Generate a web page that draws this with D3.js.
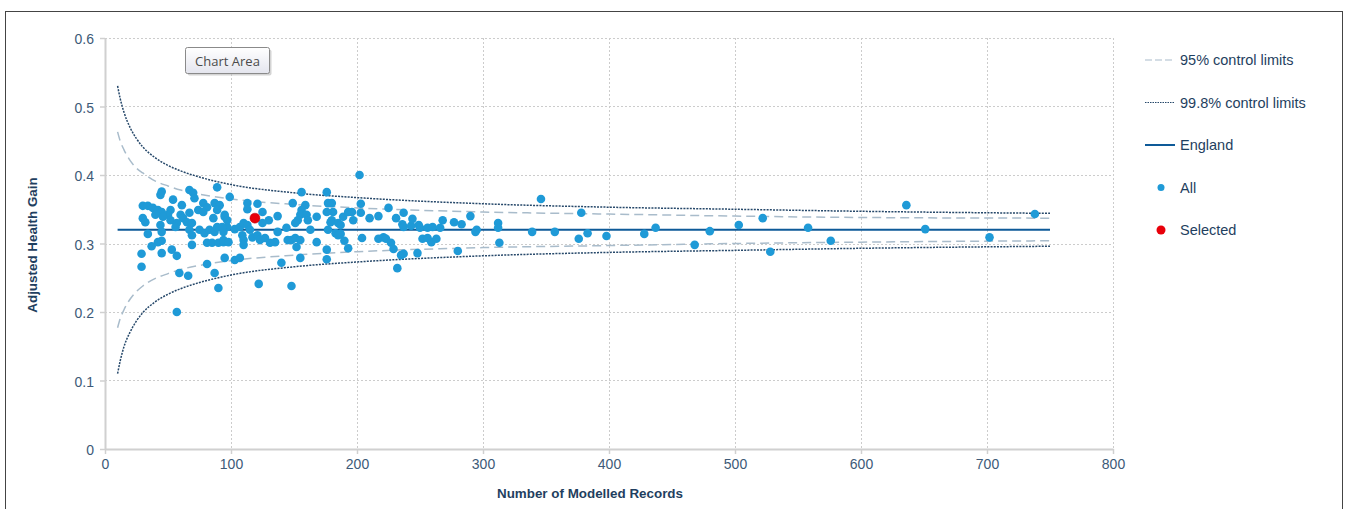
<!DOCTYPE html>
<html lang="en">
<head>
  <meta charset="UTF-8">
  <title>Adjusted Health Gain funnel plot</title>
  <script src="https://d3js.org/d3.v7.min.js"></script>
  <style>
    body { margin: 0; background: #fff; }
    .tick text { font-family: "Liberation Sans", Arial, sans-serif; font-size: 14px; fill: #3d5a78; }
    .axis-title { font-family: "Liberation Sans", Arial, sans-serif; font-size: 13.4px; font-weight: bold; fill: #1f3f60; }
    .legend text { font-family: "Liberation Sans", Arial, sans-serif; font-size: 14.5px; fill: #1f3f60; }
  </style>
</head>
<body>
  <div id="chart"></div>
  <script>
    // Providers: [number of modelled records, adjusted health gain]
    const providers = [
      [45, 0.376], [44, 0.371], [67, 0.378], [70, 0.374], [71, 0.366], [89, 0.382], [54, 0.364],
      [61, 0.356], [30, 0.355], [34, 0.355], [38, 0.352], [42, 0.349], [52, 0.349], [50, 0.342],
      [45, 0.346], [46, 0.339], [30, 0.337], [32, 0.331], [40, 0.342], [60, 0.342], [62, 0.337],
      [67, 0.345], [65, 0.331], [74, 0.349], [78, 0.359], [81, 0.353], [87, 0.359], [91, 0.356],
      [89, 0.349], [78, 0.346], [86, 0.337], [95, 0.339], [52, 0.334], [57, 0.330], [56, 0.324],
      [44, 0.327], [45, 0.317], [69, 0.330], [67, 0.320], [69, 0.312], [75, 0.320], [79, 0.315],
      [83, 0.320], [87, 0.317], [89, 0.324], [97, 0.324], [94, 0.317], [34, 0.314], [42, 0.302],
      [45, 0.304], [37, 0.296], [45, 0.286], [53, 0.291], [57, 0.282], [69, 0.298], [81, 0.301],
      [85, 0.301], [90, 0.301], [94, 0.302], [95, 0.279], [29, 0.285], [29, 0.266], [59, 0.257],
      [66, 0.253], [81, 0.270], [87, 0.257], [90, 0.235], [57, 0.200],
      [99, 0.368], [113, 0.359], [113, 0.350], [121, 0.358], [125, 0.346], [130, 0.334], [125, 0.330],
      [137, 0.340], [95, 0.342], [97, 0.334], [93, 0.324], [94, 0.305], [98, 0.302], [103, 0.321],
      [107, 0.324], [110, 0.330], [113, 0.327], [115, 0.320], [109, 0.312], [110, 0.305], [110, 0.298],
      [117, 0.309], [121, 0.312], [123, 0.305], [127, 0.308], [131, 0.301], [135, 0.302], [137, 0.317],
      [144, 0.323], [145, 0.305], [148, 0.305], [151, 0.308], [155, 0.305], [149, 0.359], [156, 0.375],
      [159, 0.356], [156, 0.349], [155, 0.342], [153, 0.334], [151, 0.330], [160, 0.342], [161, 0.334],
      [163, 0.320], [168, 0.302], [168, 0.339], [176, 0.375], [177, 0.359], [180, 0.359], [181, 0.346],
      [176, 0.346], [180, 0.334], [179, 0.331], [185, 0.330], [177, 0.320], [183, 0.315], [185, 0.312],
      [189, 0.339], [193, 0.346], [176, 0.291], [176, 0.277], [152, 0.295], [155, 0.279], [140, 0.272],
      [103, 0.276], [107, 0.279], [122, 0.241], [148, 0.238], [193, 0.293],
      [202, 0.400], [203, 0.358], [203, 0.345], [197, 0.334], [196, 0.346], [187, 0.327], [187, 0.314],
      [190, 0.304], [204, 0.308], [210, 0.337], [217, 0.340], [225, 0.352], [231, 0.337], [237, 0.345],
      [236, 0.328], [237, 0.324], [243, 0.326], [244, 0.336], [249, 0.327], [250, 0.323], [256, 0.323],
      [260, 0.324], [266, 0.323], [217, 0.307], [221, 0.309], [223, 0.307], [227, 0.301], [229, 0.292],
      [252, 0.307], [256, 0.308], [259, 0.302], [263, 0.307], [268, 0.334], [235, 0.283], [237, 0.285],
      [232, 0.264], [248, 0.286], [277, 0.331], [283, 0.328], [290, 0.340], [294, 0.317], [295, 0.320],
      [280, 0.289], [312, 0.330], [312, 0.323], [313, 0.301], [339, 0.317], [346, 0.365], [357, 0.317],
      [376, 0.307], [378, 0.345], [383, 0.315], [398, 0.311], [428, 0.314], [437, 0.323], [468, 0.298],
      [480, 0.318], [503, 0.327], [522, 0.337], [528, 0.288], [558, 0.323], [576, 0.304], [636, 0.356],
      [651, 0.321], [702, 0.309], [738, 0.343]
    ];
    const selected = [[119, 0.337]];

    const england = 0.32;
    const englandRange = [10, 750];

    // control limits
    const limitN = [10, 12, 15, 20, 25, 30, 40, 50, 60, 75, 100, 150, 200, 300, 400, 500, 600, 750];
    const upper95 = [0.463, 0.450, 0.437, 0.421, 0.410, 0.403, 0.391, 0.384, 0.378, 0.372, 0.365, 0.357, 0.352, 0.346, 0.343, 0.340, 0.338, 0.337];
    const lower95 = [0.177, 0.190, 0.203, 0.219, 0.230, 0.238, 0.249, 0.256, 0.262, 0.268, 0.275, 0.283, 0.288, 0.294, 0.297, 0.300, 0.302, 0.304];
    const upper998 = [0.530, 0.512, 0.492, 0.469, 0.453, 0.441, 0.425, 0.414, 0.406, 0.397, 0.386, 0.374, 0.367, 0.358, 0.353, 0.350, 0.347, 0.344];
    const lower998 = [0.110, 0.128, 0.149, 0.171, 0.187, 0.199, 0.215, 0.226, 0.234, 0.243, 0.254, 0.266, 0.273, 0.282, 0.287, 0.290, 0.293, 0.296];

    const xTicks = [0, 100, 200, 300, 400, 500, 600, 700, 800];
    const yTicks = [0, 0.1, 0.2, 0.3, 0.4, 0.5, 0.6];
    const legendLabels = ["95% control limits", "99.8% control limits", "England", "All", "Selected"];

    const W = 1349, H = 509;
    const plot = { left: 105, right: 1113, top: 38, bottom: 449 };

    const svg = d3.select("#chart")
      .append("svg")
      .attr("width", W)
      .attr("height", H);

    // outer frame
    svg.append("rect")
      .attr("x", 5.5).attr("y", 11.5)
      .attr("width", 1337).attr("height", 520)
      .attr("fill", "none")
      .attr("stroke", "#444");

    const x = d3.scaleLinear().domain([0, 800]).range([plot.left, plot.right]);
    const y = d3.scaleLinear().domain([0, 0.6]).range([plot.bottom, plot.top]);

    // gridlines
    svg.append("g")
      .selectAll("line")
      .data(xTicks.slice(1))
      .enter().append("line")
      .attr("x1", d => Math.round(x(d)) + 0.5).attr("x2", d => Math.round(x(d)) + 0.5)
      .attr("y1", plot.top).attr("y2", plot.bottom)
      .attr("stroke", "#cccccc").attr("stroke-dasharray", "2,2");

    svg.append("g")
      .selectAll("line")
      .data(yTicks.slice(1))
      .enter().append("line")
      .attr("x1", plot.left).attr("x2", plot.right)
      .attr("y1", d => Math.round(y(d)) + 0.5).attr("y2", d => Math.round(y(d)) + 0.5)
      .attr("stroke", "#cccccc").attr("stroke-dasharray", "2,2");

    // axes
    const xAxis = svg.append("g")
      .attr("transform", `translate(0,${plot.bottom})`)
      .call(d3.axisBottom(x).tickValues(xTicks).tickFormat(d3.format("d")).tickSizeInner(5).tickSizeOuter(0).tickPadding(5));
    const yAxis = svg.append("g")
      .attr("transform", `translate(${plot.left},0)`)
      .call(d3.axisLeft(y).tickValues(yTicks).tickFormat(d => d === 0 ? "0" : d3.format(".1f")(d)).tickSizeInner(5).tickSizeOuter(0).tickPadding(6));
    [xAxis, yAxis].forEach(a => {
      a.select(".domain").attr("stroke", "#d0d0d0").attr("stroke-width", 2);
      a.selectAll(".tick line").attr("stroke", "#d0d0d0").attr("stroke-width", 1.5);
    });
    yAxis.selectAll(".tick text").attr("dy", "0.4em");

    // axis titles
    svg.append("text")
      .attr("class", "axis-title")
      .attr("text-anchor", "middle")
      .attr("x", 590).attr("y", 498)
      .text("Number of Modelled Records");
    svg.append("text")
      .attr("class", "axis-title")
      .attr("text-anchor", "middle")
      .attr("transform", "rotate(-90)")
      .attr("x", -245).attr("y", 37)
      .text("Adjusted Health Gain");

    // control limits
    const limitLine = vals => d3.line()
      .x((d, i) => x(limitN[i]))
      .y((d, i) => y(vals[i]))
      .curve(d3.curveMonotoneX)(limitN);

    [upper95, lower95].forEach(v => {
      svg.append("path")
        .attr("d", limitLine(v))
        .attr("fill", "none")
        .attr("stroke", "#a9bccb")
        .attr("stroke-width", 1.5)
        .attr("stroke-dasharray", "9,5");
    });
    [upper998, lower998].forEach(v => {
      svg.append("path")
        .attr("d", limitLine(v))
        .attr("fill", "none")
        .attr("stroke", "#26486a")
        .attr("stroke-width", 1.5)
        .attr("stroke-dasharray", "2,1.2");
    });

    // England average
    svg.append("line")
      .attr("x1", x(englandRange[0])).attr("x2", x(englandRange[1]))
      .attr("y1", y(england)).attr("y2", y(england))
      .attr("stroke", "#0e5a98")
      .attr("stroke-width", 2);

    // points
    svg.append("g")
      .selectAll("circle")
      .data(providers)
      .enter().append("circle")
      .attr("cx", d => x(d[0]))
      .attr("cy", d => y(d[1]))
      .attr("r", 4.3)
      .attr("fill", "#1f9ad7");

    svg.append("g")
      .selectAll("circle")
      .data(selected)
      .enter().append("circle")
      .attr("cx", d => x(d[0]))
      .attr("cy", d => y(d[1]))
      .attr("r", 5)
      .attr("fill", "#e8000a")
      .attr("stroke", "#b0000a")
      .attr("stroke-width", 0.5);

    // legend
    const legend = svg.append("g").attr("class", "legend");
    const rowY = i => 60 + i * 42.5;
    legendLabels.forEach((label, i) => {
      const g = legend.append("g").attr("transform", `translate(1145,${rowY(i)})`);
      if (i === 0) {
        g.append("line").attr("x1", 0).attr("x2", 30).attr("y1", 0).attr("y2", 0)
          .attr("stroke", "#a9bccb").attr("stroke-width", 1.2).attr("stroke-dasharray", "7,3");
      } else if (i === 1) {
        g.append("line").attr("x1", 0).attr("x2", 30).attr("y1", 0).attr("y2", 0)
          .attr("stroke", "#26486a").attr("stroke-width", 1.2).attr("stroke-dasharray", "1.5,1");
      } else if (i === 2) {
        g.append("line").attr("x1", 0).attr("x2", 30).attr("y1", 0).attr("y2", 0)
          .attr("stroke", "#0e5a98").attr("stroke-width", 2);
      } else {
        g.append("circle").attr("cx", 16).attr("cy", 0).attr("r", i === 3 ? 3.5 : 4.5)
          .attr("fill", i === 3 ? "#1f9ad7" : "#e8000a");
      }
      g.append("text").attr("x", 35).attr("y", 5).text(label);
    });

    // "Chart Area" hover label
    const tip = svg.append("g").attr("transform", "translate(185.5,47.5)");
    const grad = svg.append("defs").append("linearGradient")
      .attr("id", "tipgrad").attr("x1", 0).attr("y1", 0).attr("x2", 0).attr("y2", 1);
    grad.append("stop").attr("offset", "0%").attr("stop-color", "#ffffff");
    grad.append("stop").attr("offset", "100%").attr("stop-color", "#e4e5ee");
    tip.append("rect").attr("x", 2).attr("y", 2).attr("width", 84).attr("height", 26).attr("rx", 2)
      .attr("fill", "#b8b8b8").attr("opacity", 0.6);
    tip.append("rect").attr("width", 84).attr("height", 26).attr("rx", 2)
      .attr("fill", "url(#tipgrad)").attr("stroke", "#8a8a8a");
    tip.append("text")
      .attr("x", 42).attr("y", 18)
      .attr("text-anchor", "middle")
      .attr("font-family", "'Open Sans', 'DejaVu Sans', sans-serif")
      .attr("font-size", "13px")
      .attr("fill", "#4a4a4a")
      .text("Chart Area");
  </script>
</body>
</html>
